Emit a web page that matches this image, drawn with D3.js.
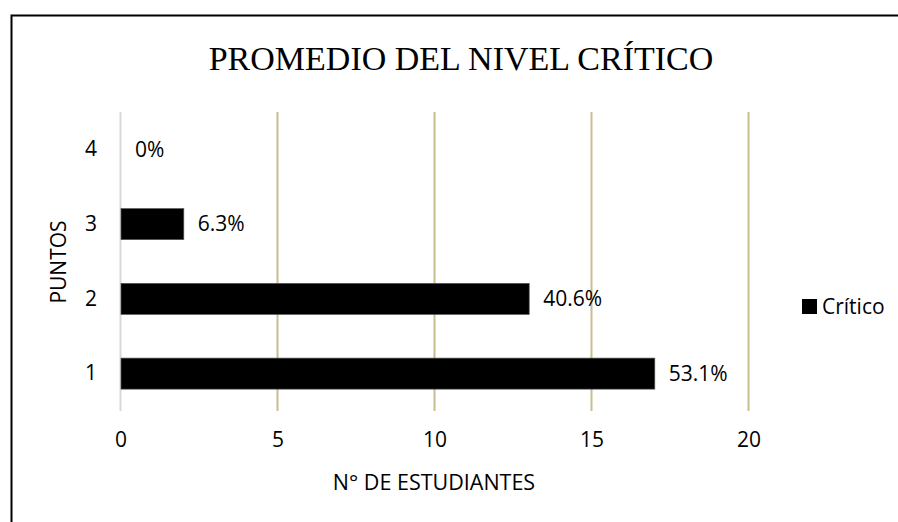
<!DOCTYPE html>
<html>
<head>
<meta charset="utf-8">
<script src="https://cdn.jsdelivr.net/npm/d3@7"></script>
<style>
  body { margin: 0; background: #fff; }
  text { font-family: "Open Sans", "Noto Sans", sans-serif; fill: #000; }
</style>
</head>
<body>
<div id="chart"></div>
<script>
// data
let puntos = ["1", "2", "3", "4"];
let estudiantes = [17, 13, 2, 0];
let porcentajes = ["53.1%", "40.6%", "6.3%", "0%"];
let xTicks = [0, 5, 10, 15, 20];

let W = 898, H = 522;
let margin = {top: 112, right: 150, bottom: 111, left: 120},
    width = 748 - margin.left,
    height = H - margin.top - margin.bottom;

let fs = "21px";

let svg = d3.select("#chart")
    .append("svg")
    .attr("width", W)
    .attr("height", H);

// outer frame (only top + left edges show)
svg.append("path")
    .attr("d", "M11.5," + H + "V15.5H" + W)
    .attr("fill", "none")
    .attr("stroke", "#000")
    .attr("stroke-width", 2);

let g = svg.append("g")
    .attr("transform", "translate(" + margin.left + "," + margin.top + ")");

let x = d3.scaleLinear().domain([0, 20]).range([0, width]);
let y = d3.scaleBand()
    .domain(puntos.slice().reverse())
    .range([0, height])
    .paddingInner(0.585)
    .paddingOuter(0.2925);

// gridlines
g.selectAll(".grid")
    .data(xTicks)
    .join("line")
    .attr("class", "grid")
    .attr("x1", d => x(d) + 0.5)
    .attr("x2", d => x(d) + 0.5)
    .attr("y1", 0)
    .attr("y2", height)
    .attr("stroke", d => d === 0 ? "#d9d9d9" : "#c9bc8f")
    .attr("stroke-width", 2);

// bars
g.selectAll(".bar")
    .data(estudiantes)
    .join("rect")
    .attr("class", "bar")
    .attr("x", x(0) + 1)
    .attr("y", (d, i) => y(puntos[i]))
    .attr("width", d => Math.max(0, x(d) - x(0)))
    .attr("height", y.bandwidth())
    .attr("fill", "#000")
    .attr("stroke", d => d > 0 ? "#555" : "none")
    .attr("stroke-width", 0.7);

// value labels
g.selectAll(".lbl")
    .data(estudiantes)
    .join("text")
    .attr("class", "lbl")
    .attr("x", d => x(d) + 15)
    .attr("y", (d, i) => y(puntos[i]) + y.bandwidth() / 2)
    .attr("dy", "0.35em")
    .style("font-size", fs)
    .text((d, i) => porcentajes[i]);

// x axis
let xAxis = g.append("g")
    .attr("transform", "translate(0," + height + ")")
    .call(d3.axisBottom(x).tickValues(xTicks).tickSize(0).tickPadding(21));
xAxis.select(".domain").remove();
xAxis.selectAll("text").style("font-size", fs).attr("dx", "0.5");

// y axis
let yAxis = g.append("g")
    .call(d3.axisLeft(y).tickSize(0).tickPadding(23));
yAxis.select(".domain").remove();
yAxis.selectAll("text").style("font-size", fs);

// axis titles
svg.append("text")
    .attr("x", 434)
    .attr("y", 482)
    .attr("dy", "0.35em")
    .attr("text-anchor", "middle")
    .style("font-size", "21.5px")
    .text("N° DE ESTUDIANTES");

svg.append("text")
    .attr("transform", "translate(59,262) rotate(-90)")
    .attr("dy", "0.35em")
    .attr("text-anchor", "middle")
    .style("font-size", fs)
    .text("PUNTOS");

// title
svg.append("text")
    .attr("x", 461)
    .attr("y", 70)
    .attr("text-anchor", "middle")
    .style("font-family", "'Liberation Serif', 'DejaVu Serif', serif")
    .style("font-size", "34px")
    .text("PROMEDIO DEL NIVEL CRÍTICO");

// legend
let legend = svg.append("g").attr("transform", "translate(802,299)");
legend.append("rect")
    .attr("width", 15)
    .attr("height", 15)
    .attr("fill", "#000");
legend.append("text")
    .attr("x", 20)
    .attr("y", 7.5)
    .attr("dy", "0.35em")
    .style("font-size", fs)
    .text("Crítico");
</script>
</body>
</html>
